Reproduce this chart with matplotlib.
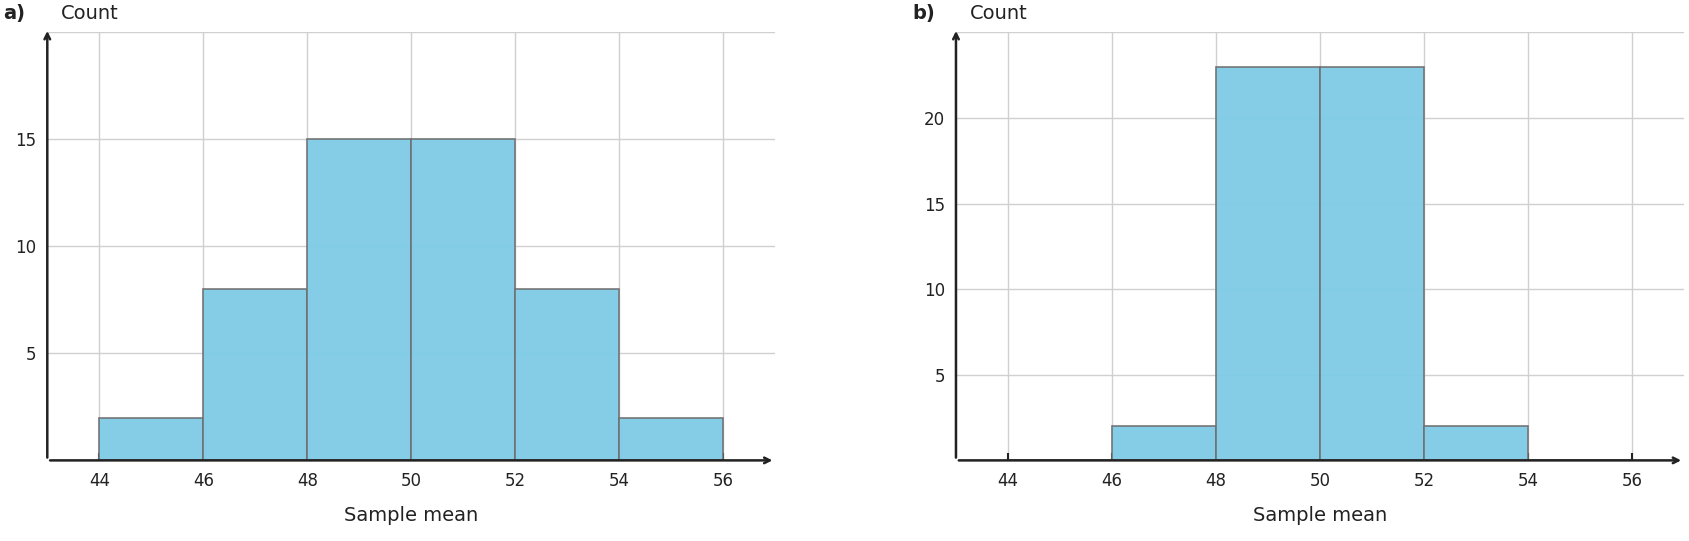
import matplotlib
matplotlib.use("Agg")
import matplotlib.pyplot as plt

bin_edges = [44, 46, 48, 50, 52, 54, 56]
counts_a = [2, 8, 15, 15, 8, 2]
counts_b = [0, 2, 23, 23, 2, 0]
xticks = [44, 46, 48, 50, 52, 54, 56]
yticks_a = [5, 10, 15]
yticks_b = [5, 10, 15, 20]

W, H = 1689, 541
fig = plt.figure(figsize=(W/100, H/100), dpi=100)
ax_a = fig.add_axes([0.028, 0.149, 0.431, 0.791])
ax_b = fig.add_axes([0.566, 0.149, 0.431, 0.791])

def panel(ax, counts, yticks, ymax, label, x0):
    widths = [bin_edges[i+1]-bin_edges[i] for i in range(len(counts))]
    ax.bar(bin_edges[:-1], counts, width=widths, align='edge',
           color='#7ecbe6', alpha=0.95, edgecolor='#707070', linewidth=1.2, zorder=2)
    ax.set_xlim(43, 57)
    ax.set_ylim(0, ymax)
    ax.set_xticks(xticks)
    ax.set_yticks(yticks)
    ax.grid(True, color='#d0d0d0', linewidth=1, zorder=0)
    ax.axhline(ymax, color='#d0d0d0', linewidth=1, zorder=0)
    for s in ax.spines.values():
        s.set_visible(False)
    ax.tick_params(axis='both', length=0, labelsize=12, colors='#222222', pad=8)
    ax.tick_params(axis='x', direction='in', length=5, width=1.5, color='#222222')
    ax.annotate('', xy=(1.0, 0), xycoords='axes fraction', xytext=(0, 0),
                arrowprops=dict(arrowstyle='->', color='#222222', lw=1.8), annotation_clip=False)
    ax.annotate('', xy=(0, 1.01), xycoords='axes fraction', xytext=(0, 0),
                arrowprops=dict(arrowstyle='->', color='#222222', lw=1.8), annotation_clip=False)
    ax.set_xlabel('Sample mean', fontsize=14, color='#222222', labelpad=12)
    fig.text(x0, 0.975, label, fontsize=14, fontweight='bold', color='#222222', va='center')
    fig.text(x0 + 0.034, 0.975, 'Count', fontsize=14, color='#222222', va='center')

panel(ax_a, counts_a, yticks_a, 20, 'a)', 0.002)
panel(ax_b, counts_b, yticks_b, 25, 'b)', 0.540)
fig.savefig('out.png', dpi=100)
